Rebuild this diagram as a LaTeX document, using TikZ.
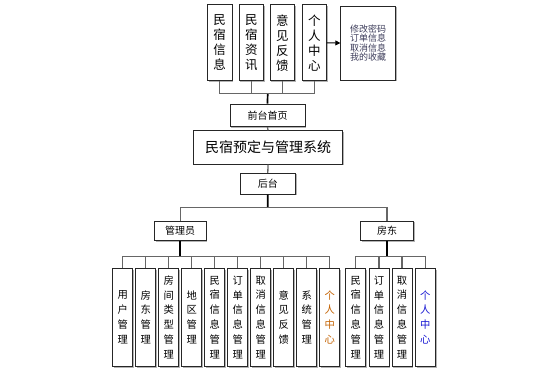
\documentclass[tikz,border=0pt]{standalone}
\usepackage{fontspec}
\setmainfont{Noto Sans CJK SC}
\usepackage{tikz}
\usetikzlibrary{positioning, arrows.meta, shadows}

\definecolor{ownred}{RGB}{196,98,0}
\definecolor{ownblue}{RGB}{20,20,210}
\definecolor{notegray}{RGB}{60,60,90}

\begin{document}
\begin{tikzpicture}[
  x=1pt, y=-1pt,
  box/.style={draw=black!85, line width=0.8pt, fill=white, inner sep=0pt, align=center,
              drop shadow={shadow xshift=1.2pt, shadow yshift=-1.2pt, fill=gray, opacity=0.6}},
  tbox/.style={box, minimum width=24.5pt, minimum height=76pt,
               font=\fontsize{12.5}{15}\selectfont},
  lbox/.style={box, minimum width=20pt, minimum height=98pt,
               font=\fontsize{10.3}{14.8}\selectfont},
  sbox/.style={box, minimum height=20pt, font=\fontsize{10}{12}\selectfont},
  tree/.style={draw=black!60, line width=1.3pt},
  stem/.style={draw=black, line width=1.7pt},
]
  \useasboundingbox (0,0) rectangle (545,371);

  % Front end pages
  \node[tbox] (t1) at (219.7,42.8) {民\\宿\\信\\息};
  \node[tbox] (t2) at (251.3,42.8) {民\\宿\\资\\讯};
  \node[tbox] (t3) at (282.3,42.8) {意\\见\\反\\馈};
  \node[tbox] (t4) at (314.3,42.8) {个\\人\\中\\心};
  \node[box, minimum width=54.6pt, minimum height=74pt, text=notegray,
        font=\fontsize{9}{9.2}\selectfont] (note) at (368,43)
        {修改密码\\订单信息\\取消信息\\我的收藏};
  \draw[line width=0.9pt, -{Triangle[length=5pt,width=5pt]}] (t4.east) -- (note.west);

  % Front page, system, back end
  \node[sbox, minimum width=75pt, minimum height=22.7pt] (front) at (267.5,115.3) {前台首页};
  \node[box, minimum width=149.4pt, minimum height=33.6pt,
        font=\fontsize{14}{16}\selectfont] (sys) at (268,147.5) {民宿预定与管理系统};
  \node[sbox, minimum width=55.7pt, minimum height=21pt] (back) at (267.8,183.8) {后台};

  \coordinate (bus1) at (267.7,93.3);
  \draw[stem] (front.north) -- (bus1);
  \foreach \s in {t1,t2,t3,t4} { \draw[tree] (\s.south) |- (bus1); }
  \draw[tree] (front.south) -- (sys.north);
  \draw[tree] (sys.south) -- (back.north);

  % Roles
  \node[sbox, minimum width=51.7pt, minimum height=19.7pt] (admin) at (180.2,230.8) {管理员};
  \node[sbox, minimum width=52.6pt, minimum height=19.7pt] (host) at (387,230.8) {房东};
  \coordinate (bus2) at (267.7,207.3);
  \draw[stem] (back.south) -- (bus2);
  \draw[tree] (bus2) -| (admin.north);
  \draw[tree] (bus2) -| (host.north);

  % Admin functions
  \node[lbox] (a1) at (122.7,317.3) {用\\户\\管\\理};
  \node[lbox] (a2) at (145.7,317.3) {房\\东\\管\\理};
  \node[lbox] (a3) at (168.7,317.3) {房\\间\\类\\型\\管\\理};
  \node[lbox] (a4) at (191.7,317.3) {地\\区\\管\\理};
  \node[lbox] (a5) at (214.7,317.3) {民\\宿\\信\\息\\管\\理};
  \node[lbox] (a6) at (237.7,317.3) {订\\单\\信\\息\\管\\理};
  \node[lbox] (a7) at (260.7,317.3) {取\\消\\信\\息\\管\\理};
  \node[lbox] (a8) at (283.7,317.3) {意\\见\\反\\馈};
  \node[lbox] (a9) at (306.7,317.3) {系\\统\\管\\理};
  \node[lbox, text=ownred] (a10) at (329.7,317.3) {个\\人\\中\\心};
  \coordinate (busA) at (180.2,256.7);
  \draw[stem] (admin.south) -- (busA);
  \foreach \s in {a1,a2,a3,a4,a5,a6,a7,a8,a9,a10} { \draw[tree] (\s.north) |- (busA); }

  % Host functions
  \node[lbox] (h1) at (355.7,317.3) {民\\宿\\信\\息\\管\\理};
  \node[lbox] (h2) at (378.9,317.3) {订\\单\\信\\息\\管\\理};
  \node[lbox] (h3) at (402.1,317.3) {取\\消\\信\\息\\管\\理};
  \node[lbox, text=ownblue] (h4) at (425.3,317.3) {个\\人\\中\\心};
  \coordinate (busH) at (387,256.7);
  \draw[stem] (host.south) -- (busH);
  \foreach \s in {h1,h2,h3,h4} { \draw[tree] (\s.north) |- (busH); }

\end{tikzpicture}
\end{document}
